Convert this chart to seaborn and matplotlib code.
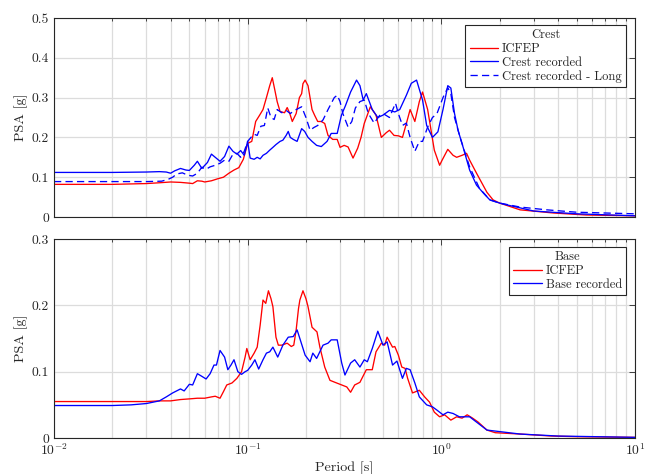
import numpy as np
import pandas as pd
import matplotlib
matplotlib.use("Agg")
import matplotlib.pyplot as plt
from matplotlib.ticker import LogLocator, FuncFormatter, NullFormatter
import seaborn as sns

# ---------------- data: pseudo-spectral acceleration vs period ----------------
crest_icfep_T = [0.01, 0.02, 0.03, 0.035, 0.04, 0.045, 0.05, 0.052, 0.055, 0.058, 0.06, 0.065, 0.07,
                 0.075, 0.08, 0.085, 0.09, 0.095, 0.1, 0.105, 0.11, 0.115, 0.12, 0.125, 0.13, 0.134,
                 0.138, 0.142, 0.147, 0.155, 0.16, 0.165, 0.17, 0.178, 0.185, 0.19, 0.193, 0.198,
                 0.205, 0.215, 0.222, 0.23, 0.24, 0.25, 0.26, 0.275, 0.29, 0.3, 0.315, 0.33, 0.35,
                 0.37, 0.385, 0.4, 0.43, 0.46, 0.49, 0.52, 0.54, 0.57, 0.6, 0.63, 0.66, 0.69, 0.73,
                 0.77, 0.8, 0.85, 0.92, 0.98, 1.01, 1.08, 1.15, 1.2, 1.28, 1.35, 1.4, 1.52, 1.72,
                 1.85, 2.0, 2.55, 3.8, 5.6, 10.0]
crest_icfep_psa = [0.082, 0.082, 0.084, 0.086, 0.088, 0.087, 0.085, 0.084, 0.091, 0.09, 0.088, 0.091, 0.096,
                   0.1, 0.11, 0.118, 0.124, 0.145, 0.185, 0.19, 0.24, 0.255, 0.27, 0.3, 0.33, 0.35,
                   0.32, 0.29, 0.265, 0.262, 0.275, 0.26, 0.24, 0.26, 0.3, 0.31, 0.335, 0.344,
                   0.33, 0.27, 0.255, 0.24, 0.24, 0.235, 0.205, 0.195, 0.195, 0.175, 0.18, 0.176, 0.148,
                   0.173, 0.2, 0.235, 0.277, 0.256, 0.2, 0.212, 0.218, 0.205, 0.204, 0.2, 0.235, 0.27, 0.24,
                   0.29, 0.314, 0.27, 0.168, 0.13, 0.143, 0.17, 0.155, 0.15, 0.155, 0.16, 0.143, 0.11, 0.062,
                   0.043, 0.035, 0.018, 0.01, 0.005, 0.003]

crest_rec_T = [0.01, 0.02, 0.03, 0.035, 0.038, 0.04, 0.042, 0.045, 0.048, 0.05, 0.053, 0.055, 0.058,
               0.062, 0.065, 0.068, 0.072, 0.076, 0.08, 0.084, 0.088, 0.092, 0.096, 0.1, 0.103, 0.108,
               0.112, 0.116, 0.12, 0.125, 0.13, 0.135, 0.14, 0.147, 0.152, 0.158, 0.162, 0.166, 0.172,
               0.18, 0.19, 0.197, 0.205, 0.215, 0.227, 0.24, 0.257, 0.27, 0.29, 0.305, 0.32, 0.34,
               0.365, 0.38, 0.395, 0.41, 0.44, 0.47, 0.5, 0.54, 0.575, 0.61, 0.66, 0.7, 0.745, 0.8,
               0.84, 0.9, 0.96, 1.02, 1.08, 1.12, 1.17, 1.22, 1.3, 1.4, 1.52, 1.65, 1.78, 2.0, 2.2,
               2.55, 3.0, 5.0, 10.0]
crest_rec_psa = [0.112, 0.112, 0.113, 0.114, 0.113, 0.11, 0.116, 0.122, 0.118, 0.117, 0.13, 0.14, 0.122,
                 0.137, 0.158, 0.15, 0.14, 0.152, 0.178, 0.165, 0.158, 0.167, 0.155, 0.19, 0.148, 0.145,
                 0.15, 0.146, 0.155, 0.16, 0.168, 0.175, 0.182, 0.19, 0.193, 0.205, 0.215, 0.2, 0.195,
                 0.19, 0.222, 0.215, 0.2, 0.19, 0.18, 0.177, 0.19, 0.21, 0.21, 0.256, 0.28, 0.314,
                 0.344, 0.33, 0.294, 0.31, 0.27, 0.25, 0.256, 0.268, 0.264, 0.27, 0.306, 0.336, 0.344, 0.294,
                 0.23, 0.2, 0.214, 0.27, 0.33, 0.324, 0.26, 0.218, 0.173, 0.118, 0.08, 0.06, 0.043, 0.035, 0.03,
                 0.023, 0.015, 0.008, 0.003]

crest_long_T = [0.01, 0.03, 0.036, 0.039, 0.041, 0.043, 0.046, 0.049, 0.052, 0.055, 0.058, 0.061, 0.064,
                0.068, 0.072, 0.076, 0.08, 0.084, 0.088, 0.092, 0.096, 0.1, 0.104, 0.108, 0.112, 0.117,
                0.122, 0.127, 0.132, 0.137, 0.142, 0.15, 0.158, 0.166, 0.175, 0.19, 0.2, 0.21, 0.22,
                0.23, 0.245, 0.26, 0.28, 0.29, 0.3, 0.31, 0.33, 0.345, 0.36, 0.38, 0.4, 0.42, 0.45,
                0.48, 0.5, 0.54, 0.58, 0.6, 0.63, 0.66, 0.69, 0.73, 0.77, 0.8, 0.85, 0.9, 0.95, 1.02,
                1.08, 1.12, 1.17, 1.25, 1.4, 1.57, 1.78, 2.0, 2.55, 3.5, 5.0, 10.0]
crest_long_psa = [0.089, 0.089, 0.09, 0.095, 0.1, 0.108, 0.111, 0.105, 0.103, 0.11, 0.125, 0.12, 0.126,
                  0.13, 0.135, 0.143, 0.14, 0.158, 0.16, 0.15, 0.165, 0.19, 0.2, 0.208, 0.205, 0.228,
                  0.23, 0.274, 0.25, 0.245, 0.27, 0.262, 0.268, 0.26, 0.268, 0.277, 0.25, 0.218, 0.225,
                  0.23, 0.244, 0.27, 0.3, 0.306, 0.29, 0.26, 0.226, 0.24, 0.274, 0.29, 0.294, 0.26, 0.236,
                  0.255, 0.26, 0.25, 0.286, 0.26, 0.23, 0.236, 0.2, 0.165, 0.19, 0.19, 0.226, 0.25, 0.26, 0.3,
                  0.325, 0.31, 0.25, 0.2, 0.126, 0.073, 0.043, 0.035, 0.025, 0.018, 0.012, 0.008]

base_icfep_T = [0.01, 0.03, 0.035, 0.04, 0.045, 0.05, 0.055, 0.06, 0.065, 0.068, 0.072, 0.075, 0.078,
                0.083, 0.088, 0.093, 0.097, 0.099, 0.103, 0.108, 0.112, 0.116, 0.12, 0.124, 0.128, 0.132,
                0.135, 0.14, 0.144, 0.15, 0.16, 0.168, 0.173, 0.178, 0.183, 0.186, 0.193, 0.2, 0.205,
                0.215, 0.228, 0.236, 0.25, 0.266, 0.288, 0.306, 0.325, 0.34, 0.357, 0.38, 0.41, 0.44,
                0.46, 0.49, 0.51, 0.525, 0.56, 0.575, 0.6, 0.625, 0.65, 0.67, 0.71, 0.77, 0.82, 0.87,
                0.92, 0.98, 1.04, 1.12, 1.2, 1.28, 1.36, 1.45, 1.55, 1.72, 1.9, 2.55, 3.7, 5.0, 10.0]
base_icfep_psa = [0.055, 0.055, 0.056, 0.056, 0.058, 0.059, 0.06, 0.06, 0.062, 0.063, 0.06, 0.07, 0.08,
                  0.083, 0.09, 0.1, 0.122, 0.135, 0.118, 0.128, 0.137, 0.17, 0.208, 0.203, 0.222, 0.21,
                  0.198, 0.152, 0.14, 0.14, 0.143, 0.138, 0.14, 0.163, 0.195, 0.208, 0.222, 0.21, 0.198,
                  0.167, 0.16, 0.137, 0.107, 0.087, 0.083, 0.08, 0.077, 0.069, 0.08, 0.084, 0.103, 0.103,
                  0.13, 0.143, 0.14, 0.152, 0.137, 0.138, 0.125, 0.107, 0.105, 0.09, 0.068, 0.072, 0.062, 0.054,
                  0.039, 0.032, 0.035, 0.027, 0.032, 0.03, 0.035, 0.03, 0.024, 0.012, 0.008, 0.006, 0.003, 0.002, 0.001]

base_rec_T = [0.01, 0.02, 0.025, 0.03, 0.035, 0.038, 0.041, 0.045, 0.047, 0.05, 0.052, 0.055, 0.058,
              0.061, 0.064, 0.067, 0.069, 0.072, 0.076, 0.079, 0.082, 0.085, 0.089, 0.093, 0.097, 0.1,
              0.105, 0.109, 0.114, 0.12, 0.125, 0.13, 0.135, 0.143, 0.152, 0.162, 0.172, 0.18, 0.186,
              0.198, 0.21, 0.217, 0.227, 0.245, 0.26, 0.27, 0.29, 0.306, 0.318, 0.34, 0.357, 0.38,
              0.4, 0.415, 0.44, 0.47, 0.5, 0.525, 0.56, 0.59, 0.63, 0.66, 0.69, 0.73, 0.77, 0.84, 0.9,
              0.95, 1.02, 1.08, 1.15, 1.24, 1.4, 1.52, 1.72, 2.55, 4.0, 10.0]
base_rec_psa = [0.049, 0.049, 0.05, 0.052, 0.056, 0.062, 0.068, 0.074, 0.071, 0.081, 0.08, 0.097, 0.093,
                0.089, 0.097, 0.11, 0.11, 0.132, 0.122, 0.103, 0.11, 0.118, 0.1, 0.096, 0.1, 0.102,
                0.11, 0.118, 0.104, 0.118, 0.128, 0.13, 0.137, 0.122, 0.14, 0.152, 0.153, 0.163, 0.15,
                0.125, 0.115, 0.128, 0.12, 0.14, 0.143, 0.148, 0.148, 0.113, 0.095, 0.113, 0.118, 0.107,
                0.118, 0.115, 0.135, 0.161, 0.14, 0.145, 0.11, 0.116, 0.09, 0.105, 0.103, 0.083, 0.062, 0.05, 0.047,
                0.042, 0.035, 0.039, 0.037, 0.032, 0.032, 0.024, 0.012, 0.006, 0.003, 0.001]

crest_yticks = [0, 0.1, 0.2, 0.3, 0.4, 0.5]
base_yticks = [0, 0.1, 0.2, 0.3]

# ---------------- style ----------------
sns.set_style("white")
plt.rcParams.update({
    "font.family": "serif",
    "font.serif": ["cmr10"],
    "mathtext.fontset": "cm",
    "axes.formatter.use_mathtext": True,
    "axes.unicode_minus": False,
    "font.size": 9,
})

DARK = "#262626"
GRID = "#dcdcdc"
LW = 0.95

fig = plt.figure(figsize=(6.53, 4.74), dpi=100)
ax_top = fig.add_axes([0.0827, 0.5422, 0.8897, 0.4198])
ax_bot = fig.add_axes([0.0827, 0.0759, 0.8897, 0.4198])


def mk(T, v, name):
    d = pd.DataFrame({"T": T, "PSA": v})
    d.attrs["name"] = name
    return d


def draw(series, ax):
    for df, color, dashes in series:
        sns.lineplot(data=df, x="T", y="PSA", ax=ax, color=color, linewidth=LW,
                     label=df.attrs["name"], estimator=None, sort=False)
        if dashes is not None:
            ax.lines[-1].set_dashes(dashes)


draw([(mk(crest_icfep_T, crest_icfep_psa, "ICFEP"), "#ff0000", None),
      (mk(crest_rec_T, crest_rec_psa, "Crest recorded"), "#0000ff", None),
      (mk(crest_long_T, crest_long_psa, "Crest recorded - Long"), "#0000ff", (5.5, 3.2))], ax_top)
draw([(mk(base_icfep_T, base_icfep_psa, "ICFEP"), "#ff0000", None),
      (mk(base_rec_T, base_rec_psa, "Base recorded"), "#0000ff", None)], ax_bot)

for ax, yt, ymax in [(ax_top, crest_yticks, 0.5), (ax_bot, base_yticks, 0.3)]:
    ax.set_xscale("log")
    ax.set_xlim(0.01, 10)
    ax.set_ylim(0, ymax)
    ax.set_yticks(yt)
    ax.yaxis.set_major_formatter(FuncFormatter(lambda v, p: "%g" % v))
    ax.xaxis.set_major_locator(LogLocator(base=10, numticks=10))
    ax.xaxis.set_minor_locator(LogLocator(base=10, subs=np.arange(2, 10), numticks=20))
    ax.xaxis.set_minor_formatter(NullFormatter())
    ax.grid(True, which="major", axis="both", color=GRID, linewidth=0.9)
    ax.grid(True, which="minor", axis="x", color=GRID, linewidth=0.9)
    ax.set_axisbelow(True)
    for s in ax.spines.values():
        s.set_color(DARK)
        s.set_linewidth(0.8)
    ax.tick_params(which="both", direction="in", top=True, right=True, colors=DARK,
                   labelcolor=DARK, labelsize=9.8, width=0.6, pad=3.5)
    ax.tick_params(which="major", length=4)
    ax.tick_params(which="minor", length=2.2)
    ax.set_ylabel("PSA [g]", color=DARK, fontsize=10.2, labelpad=3)
    ax.set_xlabel("")

ax_top.tick_params(axis="x", which="both", labelbottom=False)
ax_bot.xaxis.set_major_formatter(FuncFormatter(lambda v, p: r"$10^{%d}$" % round(np.log10(v))))
ax_bot.set_xlabel("Period [s]", color=DARK, fontsize=10.2, labelpad=2)

for ax, title, top in [(ax_top, "Crest", 0.965), (ax_bot, "Base", 0.96)]:
    leg = ax.legend(title=title, loc="upper right", bbox_to_anchor=(0.985, top),
                    frameon=True, fancybox=False, framealpha=1, edgecolor=DARK,
                    fontsize=9, title_fontsize=9, handlelength=2.3, handletextpad=0.3,
                    borderpad=0.35, labelspacing=0.12, borderaxespad=0.0)
    leg.get_frame().set_linewidth(0.8)
    leg.get_title().set_color(DARK)
    for t in leg.get_texts():
        t.set_color(DARK)

fig.savefig("out.png", dpi=100)
